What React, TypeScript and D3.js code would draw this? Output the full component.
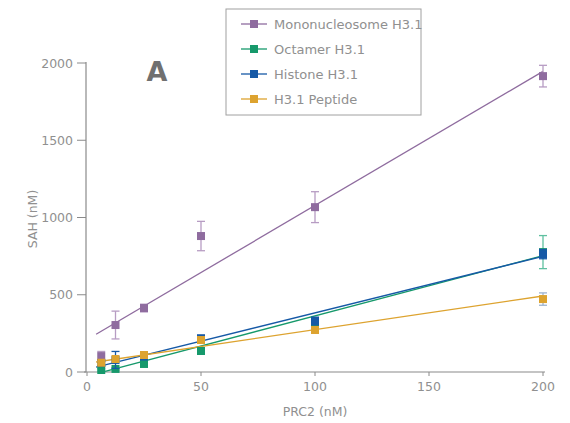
import React from "react";
import * as d3 from "d3";

const xValues = [6.25, 12.5, 25, 50, 100, 200];
const seriesNames = ["Mononucleosome H3.1", "Octamer H3.1", "Histone H3.1", "H3.1 Peptide"];
const seriesColors = ["#8F6C9F", "#16996B", "#1659A6", "#DDA32F"];
const errColors = ["#B79CC3", "#5FC0A0", "#1659A6", "#9DB3CF"];
const monoY = [103, 304, 414, 880, 1067, 1915];
const monoErr = [30, 90, 25, 95, 100, 70];
const octY = [13, 20, 52, 136, 303, 776];
const octErr = [8, 8, 10, 12, 20, 107];
const hisY = [58, 78, 100, 215, 330, 763];
const hisErr = [12, 55, 12, 25, 25, 30];
const pepY = [60, 84, 110, 207, 272, 472];
const pepErr = [10, 15, 10, 15, 12, 40];
// linear fits: [slope, intercept]
const fitSlopes = [8.68, 3.9, 3.66, 2.18];
const fitIntercepts = [210, -27, 17, 56];
const xTicks = [0, 50, 100, 150, 200];
const yTicks = [0, 500, 1000, 1500, 2000];

const W = 570, H = 423;
const FONT = "'DejaVu Sans', sans-serif";

export default function App() {
  const x = d3.scaleLinear().domain([0, 200]).range([87, 543]);
  const y = d3.scaleLinear().domain([0, 2000]).range([372, 63]);
  const ys = [monoY, octY, hisY, pepY];
  const es = [monoErr, octErr, hisErr, pepErr];
  const axisColor = "#8a8a8a";
  const textColor = "#909090";
  const line = d3.line<[number, number]>().x(d => x(d[0])).y(d => y(d[1]));
  const order = [0, 1, 2, 3];
  return (
    <svg width={W} height={H} style={{ position: "absolute", left: 0, top: 0, background: "#fff" }}>
      <defs>
        <clipPath id="plot"><rect x={87} y={0} width={470} height={372} /></clipPath>
      </defs>
      {/* axes */}
      <line x1={84} x2={545} y1={372} y2={372} stroke={axisColor} strokeWidth={1.2} />
      <line x1={86} x2={86} y1={62} y2={372} stroke={axisColor} strokeWidth={1.2} />
      {xTicks.map(t => (
        <g key={"xt" + t}>
          <line x1={x(t)} x2={x(t)} y1={372} y2={376} stroke={axisColor} />
          <text x={x(t)} y={391} textAnchor="middle" fontFamily={FONT} fontSize={12.5} fill={textColor}>{t}</text>
        </g>
      ))}
      {yTicks.map(t => (
        <g key={"yt" + t}>
          <line x1={77} x2={86} y1={y(t)} y2={y(t)} stroke={axisColor} />
          <text x={73} y={y(t) + 4.5} textAnchor="end" fontFamily={FONT} fontSize={12.5} fill={textColor}>{t}</text>
        </g>
      ))}
      <text x={315} y={416} textAnchor="middle" fontFamily={FONT} fontSize={12.5} fill={textColor}>PRC2 (nM)</text>
      <text transform={`translate(37,219) rotate(-90)`} textAnchor="middle" fontFamily={FONT} fontSize={12.5} fill={textColor}>SAH (nM)</text>
      <text x={157} y={81} textAnchor="middle" fontFamily={FONT} fontWeight="bold" fontSize={27} fill="#707070">A</text>
      {/* fit lines */}
      <g clipPath="url(#plot)">
        {order.map(i => (
          <path key={"fit" + i} d={line([[4, fitIntercepts[i] + fitSlopes[i] * 4], [200, fitIntercepts[i] + fitSlopes[i] * 200]]) || ""}
            fill="none" stroke={seriesColors[i]} strokeWidth={1.3} />
        ))}
      </g>
      {/* error bars and points */}
      {order.map(i => (
        <g key={"pts" + i}>
          {xValues.map((xv, j) => {
            const cx = x(xv), v = ys[i][j], e = es[i][j];
            return (
              <g key={j}>
                <line x1={cx} x2={cx} y1={y(v - e)} y2={y(v + e)} stroke={errColors[i]} strokeWidth={1.3} />
                <line x1={cx - 4} x2={cx + 4} y1={y(v + e)} y2={y(v + e)} stroke={errColors[i]} strokeWidth={1.3} />
                <line x1={cx - 4} x2={cx + 4} y1={y(v - e)} y2={y(v - e)} stroke={errColors[i]} strokeWidth={1.3} />
                <rect x={cx - 4} y={y(v) - 4} width={8} height={8} fill={seriesColors[i]} />
              </g>
            );
          })}
        </g>
      ))}
      {/* legend */}
      <rect x={226} y={9} width={195} height={106} fill="#fff" stroke="#a0a0a0" strokeWidth={1} />
      {seriesNames.map((n, i) => {
        const ly = 24 + i * 25;
        return (
          <g key={"lg" + i}>
            <line x1={241} x2={267} y1={ly} y2={ly} stroke={seriesColors[i]} strokeWidth={1.3} />
            <rect x={250} y={ly - 4} width={8} height={8} fill={seriesColors[i]} />
            <text x={274} y={ly + 4.5} fontFamily={FONT} fontSize={13} fill={textColor}>{n}</text>
          </g>
        );
      })}
    </svg>
  );
}
